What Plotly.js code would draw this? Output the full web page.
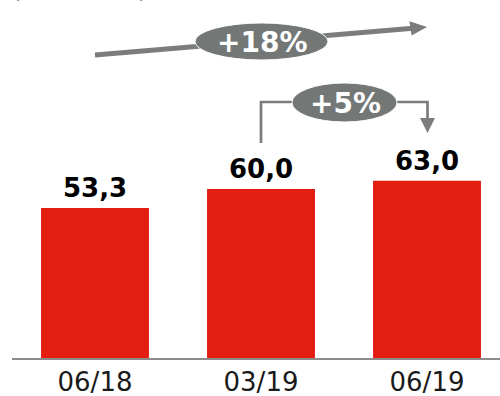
<!DOCTYPE html>
<html>
<head>
<meta charset="utf-8">
<script src="https://cdn.plot.ly/plotly-3.0.1.min.js"></script>
<style>html,body{margin:0;padding:0;background:#fff;}#chart{width:500px;height:396px;}</style>
</head>
<body>
<div id="chart"></div>
<script>
// ---- data ----
var categories = ['06/18', '03/19', '06/19'];
var values = [53.3, 60.0, 63.0];
var valueLabels = ['53,3', '60,0', '63,0'];
var unitLabel = '(Mill. euros)';
var growthLong = '+18%';
var growthShort = '+5%';

// ---- geometry helpers (pixel -> data coords) ----
var W = 500, H = 396;
var mL = 12, mR = 0, mT = 0, mB = 38;
var plotW = W - mL - mR, plotH = H - mT - mB;
var catPx = 166;                       // pixels per category
var xr0 = -0.5, xr1 = xr0 + plotW / catPx;
var pxPerUnit = 2.815;
var yMax = plotH / pxPerUnit;
function X(px) { return xr0 + (px - mL) / catPx; }
function Y(py) { return (mT + plotH - py) / pxPerUnit; }

var gray = '#7b7d7d';
var ellFill = '#737877';
var red = '#e31e10';

var shapes = [];
// long arrow line
shapes.push({type: 'line', xref: 'x', yref: 'y', x0: X(95), y0: Y(55), x1: X(413), y1: Y(28.2),
  line: {color: gray, width: 5}});
shapes.push({type: 'path', xref: 'x', yref: 'y', fillcolor: gray, line: {width: 0},
  path: 'M' + X(427) + ',' + Y(27) + ' L' + X(409.4) + ',' + Y(21.2) + ' L' + X(411.6) + ',' + Y(35.6) + ' Z'});
// short elbow arrow
shapes.push({type: 'path', xref: 'x', yref: 'y', line: {color: gray, width: 2.7},
  path: 'M' + X(261) + ',' + Y(143) + ' L' + X(261) + ',' + Y(102) + ' L' + X(427.5) + ',' + Y(102) + ' L' + X(427.5) + ',' + Y(119)});
shapes.push({type: 'path', xref: 'x', yref: 'y', fillcolor: gray, line: {width: 0},
  path: 'M' + X(420) + ',' + Y(118) + ' L' + X(435) + ',' + Y(118) + ' L' + X(427.5) + ',' + Y(133) + ' Z'});
// ellipses
shapes.push({type: 'circle', xref: 'x', yref: 'y', x0: X(195), x1: X(328), y0: Y(60), y1: Y(23),
  fillcolor: ellFill, line: {color: '#ffffff', width: 1}});
shapes.push({type: 'circle', xref: 'x', yref: 'y', x0: X(292), x1: X(397), y0: Y(122), y1: Y(83),
  fillcolor: ellFill, line: {color: '#ffffff', width: 1}});

var annotations = [];
for (var i = 0; i < categories.length; i++) {
  annotations.push({x: i, y: values[i], xref: 'x', yref: 'y', text: '<b>' + valueLabels[i] + '</b>',
    showarrow: false, yanchor: 'bottom', yshift: 3,
    font: {family: 'DejaVu Sans', size: 26, color: '#000000'}});
}
annotations.push({x: X(261.5), y: Y(42), xref: 'x', yref: 'y', text: '<b>' + growthLong + '</b>', showarrow: false,
  font: {family: 'DejaVu Sans', size: 28, color: '#ffffff'}});
annotations.push({x: X(345), y: Y(103), xref: 'x', yref: 'y', text: '<b>' + growthShort + '</b>', showarrow: false,
  font: {family: 'DejaVu Sans', size: 28, color: '#ffffff'}});
annotations.push({x: 0, y: 1, xref: 'paper', yref: 'paper', text: unitLabel, showarrow: false,
  xanchor: 'left', yanchor: 'bottom', xshift: -2, yshift: -5,
  font: {family: 'DejaVu Sans', size: 23, color: '#000000'}});

var trace = {
  type: 'bar', x: categories, y: values,
  marker: {color: red},
  hoverinfo: 'skip'
};

var layout = {
  width: W, height: H,
  margin: {l: mL, r: mR, t: mT, b: mB, pad: 0},
  paper_bgcolor: '#ffffff', plot_bgcolor: '#ffffff',
  bargap: 0.35,
  showlegend: false,
  xaxis: {type: 'category', range: [xr0, xr1], showline: true, linecolor: '#8c8c8c', linewidth: 2,
    showgrid: false, zeroline: false, ticks: '', fixedrange: true,
    tickfont: {family: 'DejaVu Sans', size: 26, color: '#1a1a1a'}},
  yaxis: {range: [0, yMax], visible: false, showgrid: false, zeroline: false, fixedrange: true},
  shapes: shapes,
  annotations: annotations
};

Plotly.newPlot('chart', [trace], layout, {displayModeBar: false, staticPlot: true});
</script>
</body>
</html>
